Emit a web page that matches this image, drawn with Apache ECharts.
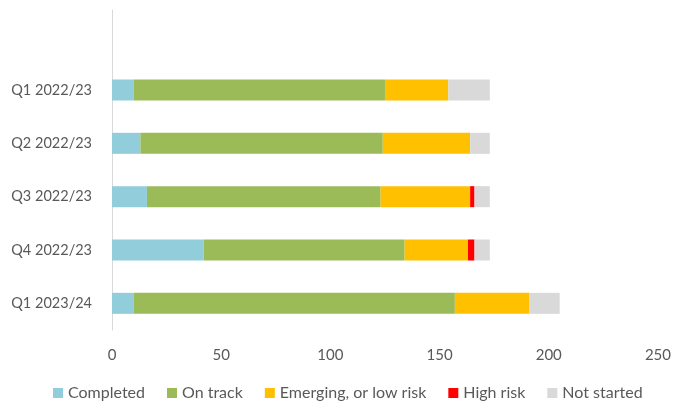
<!DOCTYPE html>
<html>
<head>
<meta charset="utf-8">
<script src="https://cdn.jsdelivr.net/npm/echarts@6/dist/echarts.min.js"></script>
<style>
  html, body { margin: 0; padding: 0; background: #fff; }
  #chart { width: 674px; height: 404px; }
</style>
</head>
<body>
<div id="chart"></div>
<script>
  // categories, top to bottom (blank slot at the top like the original)
  var quarters = ['', 'Q1 2022/23', 'Q2 2022/23', 'Q3 2022/23', 'Q4 2022/23', 'Q1 2023/24'];
  var completed  = [null, 10, 13, 16, 42, 10];
  var onTrack    = [null, 115, 111, 107, 92, 147];
  var emerging   = [null, 29, 40, 41, 29, 34];
  var highRisk   = [null, 0, 0, 2, 3, 0];
  var notStarted = [null, 19, 9, 7, 7, 14];
  var xTicks = [0, 50, 100, 150, 200, 250];

  var font = 'Lato';
  var chart = echarts.init(document.getElementById('chart'));

  function bar(name, data, color) {
    return {
      name: name,
      type: 'bar',
      stack: 'total',
      data: data,
      barWidth: 21,
      itemStyle: { color: color },
      emphasis: { disabled: true }
    };
  }

  var option = {
    animation: false,
    textStyle: { fontFamily: font },
    grid: { left: 112, right: 16, top: 10, bottom: 74, containLabel: false },
    legend: {
      top: 380,
      left: 48,
      itemWidth: 10,
      itemHeight: 10,
      itemGap: 22,
      icon: 'rect',
      textStyle: { fontFamily: font, fontSize: 16, color: '#595959' },
      data: ['Completed', 'On track', 'Emerging, or low risk', 'High risk', 'Not started']
    },
    xAxis: {
      type: 'value',
      min: xTicks[0],
      max: xTicks[xTicks.length - 1],
      interval: 50,
      axisLine: { show: false },
      axisTick: { show: false },
      splitLine: { show: false },
      axisLabel: { fontFamily: font, fontSize: 15, color: '#595959', margin: 18 }
    },
    yAxis: {
      type: 'category',
      inverse: true,
      data: quarters,
      axisLine: { show: true, lineStyle: { color: '#d9d9d9', width: 1 } },
      axisTick: { show: false },
      axisLabel: { fontFamily: font, fontSize: 14.5, color: '#595959', margin: 20 }
    },
    series: [
      bar('Completed', completed, '#92cddc'),
      bar('On track', onTrack, '#9bbb59'),
      bar('Emerging, or low risk', emerging, '#ffc000'),
      bar('High risk', highRisk, '#ff0000'),
      bar('Not started', notStarted, '#d9d9d9')
    ]
  };
  chart.setOption(option);
</script>
</body>
</html>
